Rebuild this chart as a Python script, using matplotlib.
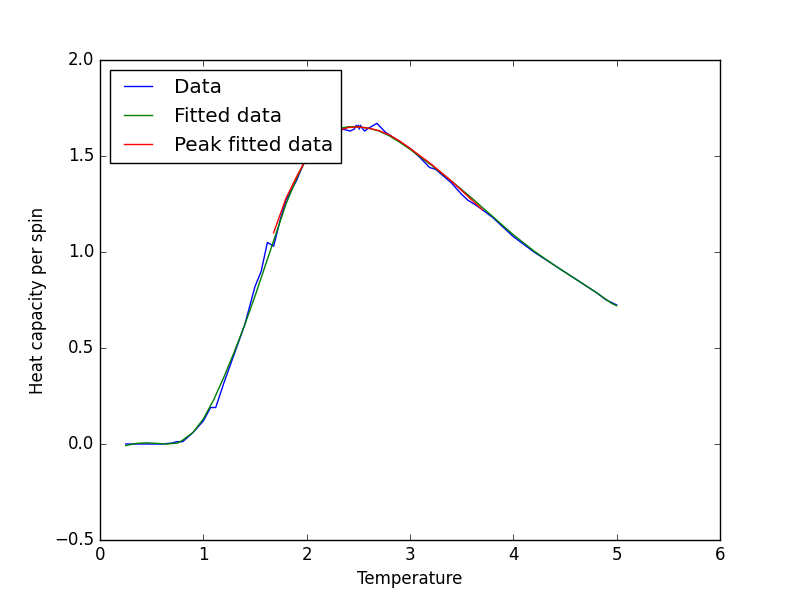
import matplotlib
matplotlib.use("Agg")
import matplotlib.pyplot as plt

plt.style.use("classic")

T_data = [0.25, 0.4, 0.6, 0.7, 0.74, 0.8, 0.9, 1.0, 1.07, 1.12, 1.2, 1.3, 1.4, 1.5, 1.56,
          1.62, 1.68, 1.75, 1.8, 1.9, 2.0, 2.1, 2.2, 2.3, 2.35, 2.42, 2.46, 2.48, 2.49,
          2.5, 2.51, 2.52, 2.53, 2.56, 2.6, 2.68, 2.76, 2.8, 3.0, 3.1, 3.19, 3.25, 3.4, 3.5,
          3.56, 3.65, 3.8, 4.0, 4.2, 4.4, 4.6, 4.8, 4.9, 5.0]
C_data = [0.0, 0.0, 0.0, 0.005, 0.012, 0.012, 0.06, 0.12, 0.19, 0.19, 0.32, 0.47, 0.62, 0.82, 0.90,
          1.05, 1.03, 1.18, 1.27, 1.37, 1.50, 1.57, 1.60, 1.62, 1.64, 1.63, 1.64, 1.66, 1.65,
          1.66, 1.64, 1.66, 1.65, 1.63, 1.645, 1.67, 1.625, 1.61, 1.54, 1.49, 1.44, 1.43, 1.36, 1.30,
          1.27, 1.24, 1.18, 1.08, 1.00, 0.93, 0.86, 0.79, 0.75, 0.724]

T_fit = [0.25, 0.35, 0.45, 0.55, 0.65, 0.75, 0.8, 0.9, 1.0, 1.1, 1.2, 1.3, 1.4, 1.5, 1.6, 1.7,
         1.8, 1.9, 2.0, 2.1, 2.2, 2.3, 2.4, 2.5, 2.6, 2.7, 2.8, 2.9, 3.0, 3.1, 3.2, 3.3, 3.4,
         3.5, 3.6, 3.7, 3.8, 3.9, 4.0, 4.2, 4.4, 4.6, 4.7, 4.8, 4.9, 4.95, 5.0]
C_fit = [-0.008, 0.003, 0.006, 0.003, 0.0, 0.005, 0.02, 0.06, 0.13, 0.23, 0.35, 0.48, 0.62,
         0.77, 0.93, 1.09, 1.25, 1.38, 1.49, 1.57, 1.62, 1.642, 1.652, 1.652, 1.645, 1.63,
         1.605, 1.572, 1.535, 1.495, 1.455, 1.413, 1.37, 1.325, 1.28, 1.232, 1.185, 1.137,
         1.09, 1.005, 0.93, 0.86, 0.825, 0.79, 0.752, 0.733, 0.72]

T_peak = [1.68, 1.8, 1.9, 2.0, 2.1, 2.2, 2.3, 2.4, 2.5, 2.6, 2.7, 2.8, 2.9, 3.0, 3.1, 3.2,
          3.3, 3.4, 3.5, 3.6, 3.7]
C_peak = [1.10, 1.28, 1.39, 1.49, 1.56, 1.60, 1.632, 1.648, 1.652, 1.645, 1.632, 1.61,
          1.578, 1.54, 1.50, 1.46, 1.415, 1.37, 1.32, 1.27, 1.22]

fig, ax = plt.subplots(figsize=(8, 6), dpi=100)
ax.plot(T_data, C_data, color="b", label="Data")
ax.plot(T_fit, C_fit, color="g", label="Fitted data")
ax.plot(T_peak, C_peak, color="r", label="Peak fitted data")
ax.set_xlim(0, 6)
ax.set_ylim(-0.5, 2.0)
ax.set_xlabel("Temperature")
ax.set_ylabel("Heat capacity per spin")
ax.legend(loc="upper left")
fig.savefig("out.png", dpi=100)
